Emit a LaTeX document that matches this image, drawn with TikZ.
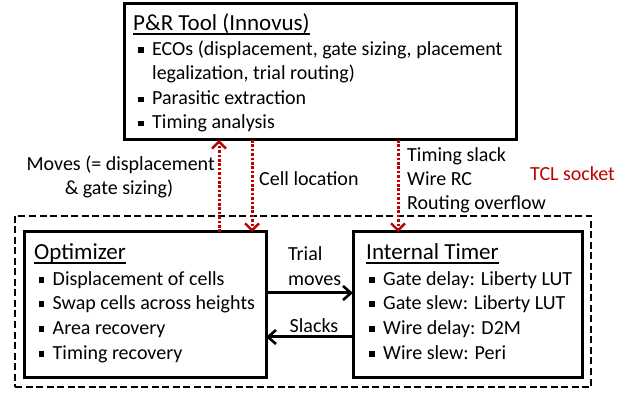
\documentclass[tikz,border=0pt]{standalone}
\usepackage{fontspec}
\setmainfont{Carlito}
\usetikzlibrary{arrows.meta}
\definecolor{dred}{RGB}{192,0,0}
\newcommand\bul{\makebox[0.7em][l]{\rule[0.12em]{0.28em}{0.28em}}}
\newcommand\ulx[1]{\setbox0\hbox{#1}\rlap{\rule[-0.2em]{\wd0}{1.6pt}}\box0}
\begin{document}
\begin{tikzpicture}[x=1pt,y=-1pt,
  font=\fontsize{20}{24}\selectfont,
  box/.style={draw, line width=3pt, inner sep=0pt, outer sep=0pt},
  dbox/.style={draw, line width=2.3pt, dash pattern=on 7pt off 3.5pt, inner sep=0pt, outer sep=0pt},
  txt/.style={anchor=west, inner sep=0pt, text height=0.7em, text depth=0.22em},
  ttl/.style={txt, font=\fontsize{23}{26}\selectfont},
  redarrow/.style={draw=dred, line width=3pt, dash pattern=on 2.6pt off 1.8pt,
    -{Straight Barb[length=7pt, width=14pt, line width=2.4pt]}},
  blackarrow/.style={draw, line width=3pt,
    -{Straight Barb[length=8pt, width=14pt, line width=2.6pt]}}]
\useasboundingbox (0,0) rectangle (632,395);
% boxes
\node[box, minimum width=392pt, minimum height=136pt] (pr) at (320,72) {};
\node[dbox, minimum width=576pt, minimum height=171pt] (sock) at (303,301.5) {};
\node[box, minimum width=242pt, minimum height=145pt] (opt) at (145,304.5) {};
\node[box, minimum width=229pt, minimum height=145pt] (tim) at (467.5,304.5) {};
% P&R text
\node[ttl] (prt) at (133,28) {\ulx{P\&R Tool (Innovus)}};
\node[txt] (pr1) at (138,53) {\bul ECOs (displacement, gate sizing, placement};
\node[txt] (pr2) at (152,77.5) {legalization, trial routing)};
\node[txt] (pr3) at (138,102.5) {\bul Parasitic extraction};
\node[txt] (pr4) at (138,126.5) {\bul Timing analysis};
% optimizer text
\node[ttl] (optt) at (34,257) {\ulx{Optimizer}};
\node[txt] (o1) at (38.5,283) {\bul Displacement of cells};
\node[txt] (o2) at (38.5,307) {\bul Swap cells across heights};
\node[txt] (o3) at (38.5,332) {\bul Area recovery};
\node[txt] (o4) at (38.5,357) {\bul Timing recovery};
% timer text
\node[ttl] (timt) at (366,257) {\ulx{Internal Timer}};
\node[txt] (t1) at (369,283) {\bul Gate delay: Liberty LUT};
\node[txt] (t2) at (369,307) {\bul Gate slew: Liberty LUT};
\node[txt] (t3) at (369,332) {\bul Wire delay: D2M};
\node[txt] (t4) at (369,357) {\bul Wire slew: Peri};
% labels
\node[txt] (trial) at (288,258) {Trial};
\node[txt] (moves) at (288,283) {moves};
\node[txt] (slk) at (289.5,330) {Slacks};
\node[txt, anchor=east] (mv1) at (215,168) {Moves (= displacement};
\node[txt, anchor=center] (mv2) at (119,192) {\& gate sizing)};
\node[txt] (cl) at (259,183) {Cell location};
\node[txt] (ts1) at (407,159) {Timing slack};
\node[txt] (ts2) at (407,183) {Wire RC};
\node[txt] (ts3) at (407,207) {Routing overflow};
\node[txt, text=dred] (tcl) at (530,178) {TCL socket};
% red arrows
\coordinate (xa) at (219,0);
\coordinate (xb) at (252,0);
\coordinate (xc) at (398,0);
\draw[redarrow] (opt.north -| xa) -- (pr.south -| xa);
\draw[redarrow] (pr.south -| xb) -- (opt.north -| xb);
\draw[redarrow] (pr.south -| xc) -- (tim.north -| xc);
% black arrows
\coordinate (ya) at (0,293);
\coordinate (yb) at (0,337);
\draw[blackarrow] (opt.east |- ya) -- (tim.west |- ya);
\draw[blackarrow] (tim.west |- yb) -- (opt.east |- yb);
\end{tikzpicture}
\end{document}
